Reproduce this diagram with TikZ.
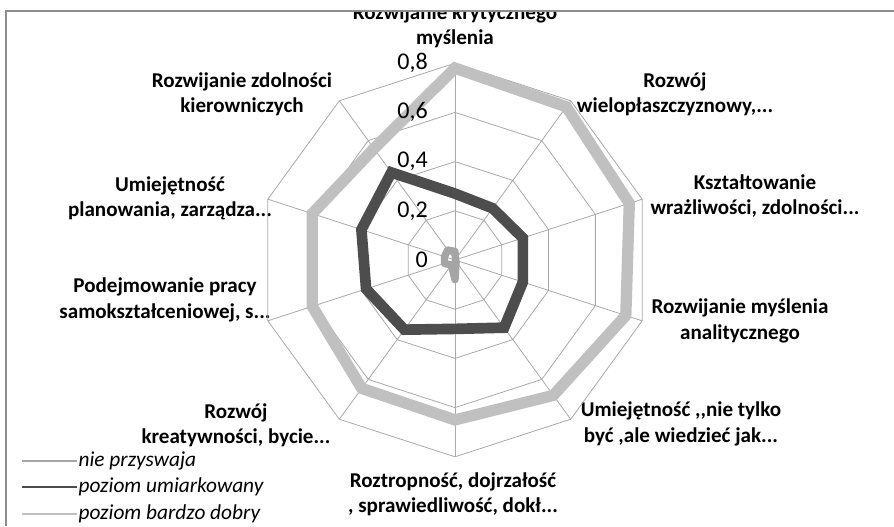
\documentclass[tikz,border=0pt]{standalone}
\usepackage{fontspec}
\setmainfont{Carlito}
\definecolor{framegray}{HTML}{8C8C8C}
\definecolor{gridgray}{HTML}{A8A8A8}
\definecolor{lowgray}{HTML}{A5A5A5}
\definecolor{midgray}{HTML}{4D4D4D}
\definecolor{topgray}{HTML}{C0C0C0}
\tikzset{
  axislabel/.style={font=\bfseries\fontsize{15.8}{19}\selectfont, align=center, inner sep=0pt},
  ticklabel/.style={font=\fontsize{18}{20}\selectfont, anchor=east, inner sep=0pt},
  legendtext/.style={font=\itshape\fontsize{16}{18}\selectfont, anchor=west, inner sep=1pt},
  gridline/.style={gridgray, line width=0.6pt},
  seriesnone/.style={lowgray, line width=5.5pt, line join=round},
  seriesmid/.style={midgray, line width=8pt},
  seriestop/.style={topgray, line width=8.5pt},
}
\newcommand{\unitr}{246}
\begin{document}
\begin{tikzpicture}[x=0.75pt,y=0.75pt]
\useasboundingbox (0,0) rectangle (894,-526);

% category labels, clockwise from the top
\node[axislabel] (lab0) at (455,-26) {Rozwijanie krytycznego\\myślenia};
\node[axislabel] (lab1) at (675,-94) {Rozwój\\wielopłaszczyznowy,...};
\node[axislabel] (lab2) at (755,-196) {Kształtowanie\\wrażliwości, zdolności...};
\node[axislabel] (lab3) at (740,-321) {Rozwijanie myślenia\\analitycznego};
\node[axislabel] (lab4) at (681,-424) {Umiejętność {,}{,}nie tylko\\być ,ale wiedzieć jak...};
\node[axislabel] (lab5) at (453,-494) {Roztropność, dojrzałość\\, sprawiedliwość, dokł...};
\node[axislabel] (lab6) at (236,-425) {Rozwój\\kreatywności, bycie...};
\node[axislabel] (lab7) at (165,-300) {Podejmowanie pracy\\samokształceniowej, s...};
\node[axislabel] (lab8) at (170,-198) {Umiejętność\\planowania, zarządza...};
\node[axislabel] (lab9) at (242,-94) {Rozwijanie zdolności\\kierowniczych};

% the chart area cuts off the top line of the first label
\fill[white] (0,0) rectangle (894,-10);
\draw[framegray, line width=1.5pt] (5.5,-526) -- (5.5,-10.5) -- (894,-10.5);

\begin{scope}[shift={(455,-260)}]
  % web
  \foreach \r in {0.2,0.4,0.6,0.8}
    \draw[gridline] (90:{\r*\unitr}) \foreach \k in {1,...,9}{ -- ({90-36*\k}:{\r*\unitr})} -- cycle;
  \foreach \k in {0,...,9}
    \draw[gridline] (0,0) -- ({90-36*\k}:{0.8*\unitr});

  % nie przyswaja
  \foreach \v [count=\k from 0] in {0.035,0.003,0.003,0.003,0.008,0.08,0.025,0.045,0.045,0.05}
    \coordinate (a\k) at ({90-36*\k}:{\v*\unitr});
  \draw[seriesnone] (a0) \foreach \k in {1,...,9}{ -- (a\k)} -- cycle;

  % poziom umiarkowany
  \foreach \v [count=\k from 0] in {0.27,0.26,0.29,0.29,0.34,0.28,0.35,0.38,0.40,0.44}
    \coordinate (b\k) at ({90-36*\k}:{\v*\unitr});
  \draw[seriesmid] (b0) \foreach \k in {1,...,9}{ -- (b\k)} -- cycle;

  % poziom bardzo dobry
  \foreach \v [count=\k from 0] in {0.78,0.77,0.745,0.73,0.68,0.65,0.645,0.61,0.61,0.56}
    \coordinate (c\k) at ({90-36*\k}:{\v*\unitr});
  \draw[seriestop] (c0) \foreach \k in {1,...,9}{ -- (c\k)} -- cycle;

  % scale
  \foreach \v/\t [count=\n] in {0/0, 0.2/{0,2}, 0.4/{0,4}, 0.6/{0,6}, 0.8/{0,8}}
    \node[ticklabel] (tick\n) at (-27,{\v*\unitr}) {\t};
\end{scope}

% legend
\foreach \s/\t [count=\n] in {seriesnone/nie przyswaja, seriesmid/poziom umiarkowany, seriestop/poziom bardzo dobry}{
  \coordinate (leg\n) at (22,{-434-26.5*\n});
  \coordinate (lege\n) at (77,{-434-26.5*\n});
  \node[legendtext] (legt\n) at (lege\n) {\t};
}
\draw[lowgray, line width=1.5pt] (leg1) -- (lege1);
\draw[midgray, line width=2.2pt] (leg2) -- (lege2);
\draw[topgray, line width=1.5pt] (leg3) -- (lege3);
\end{tikzpicture}
\end{document}
